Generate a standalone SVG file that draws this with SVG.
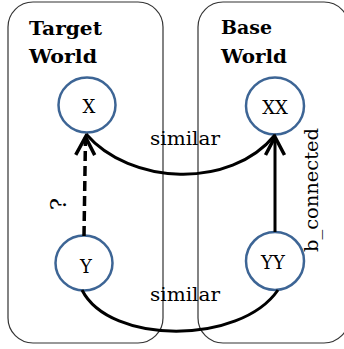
<svg xmlns="http://www.w3.org/2000/svg" width="344" height="349" viewBox="0 0 344 349">
  <style>
    .world { fill: none; stroke: #333; stroke-width: 1.2; }
    .title { font-family: "DejaVu Serif", "Liberation Serif", serif; font-weight: bold; font-size: 19px; fill: #000; }
    .node circle, .node ellipse { fill: #fff; stroke: #3d6595; stroke-width: 2.5; }
    .lbl { font-family: "DejaVu Serif", "Liberation Serif", serif; font-size: 18px; fill: #000; text-anchor: middle; }
    .edge { fill: none; stroke: #000; stroke-width: 3; }
    .dashed { stroke-width: 3.5; stroke-dasharray: 10 5; }
  </style>
  <defs>
    <marker id="chevron" viewBox="-22 -12 26 24" refX="0" refY="0" markerWidth="26" markerHeight="24" markerUnits="userSpaceOnUse" orient="auto">
      <path d="M-18,-9.5 L0,0 L-18,9.5" fill="none" stroke="#000" stroke-width="3.5"/>
    </marker>
  </defs>

  <!-- world containers -->
  <g id="target-world">
    <rect class="world" x="8" y="2" width="155" height="341" rx="25" ry="25"/>
    <text class="title" x="29" y="35" textLength="73" lengthAdjust="spacingAndGlyphs">Target</text>
    <text class="title" x="29" y="63" textLength="68" lengthAdjust="spacingAndGlyphs">World</text>
  </g>
  <g id="base-world">
    <rect class="world" x="198" y="2" width="151" height="341" rx="25" ry="25"/>
    <text class="title" x="221" y="34" textLength="51" lengthAdjust="spacingAndGlyphs">Base</text>
    <text class="title" x="221" y="63" textLength="66" lengthAdjust="spacingAndGlyphs">World</text>
  </g>

  <!-- nodes -->
  <g id="node-X" class="node">
    <ellipse cx="87" cy="105" rx="28.5" ry="27.5"/>
    <text class="lbl" x="89" y="113">X</text>
  </g>
  <g id="node-XX" class="node">
    <ellipse cx="275" cy="106" rx="29" ry="28.5"/>
    <text class="lbl" x="275" y="114">XX</text>
  </g>
  <g id="node-Y" class="node">
    <ellipse cx="84" cy="263" rx="28.5" ry="27.5"/>
    <text class="lbl" x="86" y="273">Y</text>
  </g>
  <g id="node-YY" class="node">
    <ellipse cx="275" cy="261" rx="29" ry="29"/>
    <text class="lbl" x="273" y="269">YY</text>
  </g>

  <!-- connectors -->
  <g id="connectors">
    <path class="edge" d="M86,134 C130,185 230,190 275,135"/>
    <path class="edge" d="M82,290 C110,345 240,345 278,290"/>
    <line class="edge dashed" x1="84" y1="236" x2="85.5" y2="137" marker-end="url(#chevron)"/>
    <line class="edge" x1="275" y1="232" x2="275" y2="137" marker-end="url(#chevron)"/>
    <text class="lbl" x="185" y="145" textLength="70" lengthAdjust="spacingAndGlyphs">similar</text>
    <text class="lbl" x="185" y="301" textLength="70" lengthAdjust="spacingAndGlyphs">similar</text>
    <text class="lbl" style="font-size:23px" transform="translate(66,204) rotate(-90)">?</text>
    <text class="lbl" transform="translate(318,190) rotate(-90)" textLength="124" lengthAdjust="spacingAndGlyphs">b_connected</text>
  </g>
</svg>
